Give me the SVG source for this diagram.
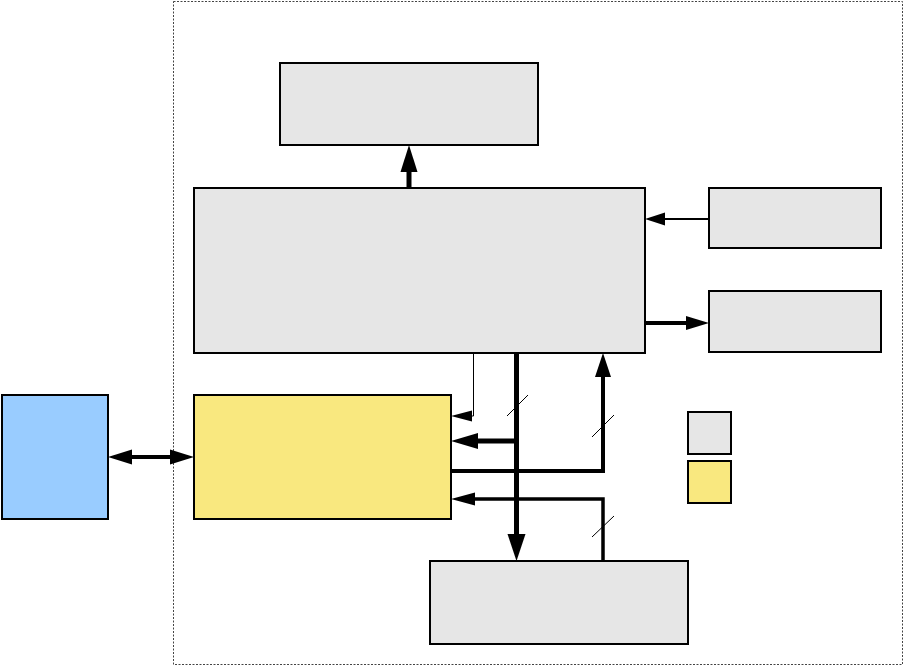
<svg xmlns="http://www.w3.org/2000/svg" width="904" height="666" viewBox="0 0 904 666">
<style>
.box{stroke:#000;stroke-width:2}
.gray{fill:#e6e6e6}
.yellow{fill:#f9e87f}
.blue{fill:#99ccff}
.ln{fill:none;stroke:#000;stroke-linecap:butt;stroke-linejoin:miter}
.ah{fill:#000;stroke:none}
</style>
<rect x="0" y="0" width="904" height="666" fill="#fff"/>
<rect id="boundary" x="173.5" y="1.5" width="729" height="663" fill="none" stroke="#444" stroke-width="1" stroke-dasharray="2,1.5"/>
<g id="top-box"><rect class="box gray" x="280" y="63" width="258" height="82"/></g>
<g id="main-box"><rect class="box gray" x="194" y="188" width="451" height="165"/></g>
<g id="right-top-box"><rect class="box gray" x="709" y="188" width="172" height="60"/></g>
<g id="right-bottom-box"><rect class="box gray" x="709" y="291" width="172" height="61"/></g>
<g id="yellow-box"><rect class="box yellow" x="194" y="395" width="257" height="124"/></g>
<g id="blue-box"><rect class="box blue" x="2" y="395" width="106" height="124"/></g>
<g id="bottom-box"><rect class="box gray" x="430" y="561" width="258" height="83"/></g>
<g id="legend-gray"><rect class="box gray" x="688" y="412" width="43" height="42"/></g>
<g id="legend-yellow"><rect class="box yellow" x="688" y="461" width="43" height="42"/></g>
<g id="connectors">
  <line class="ln" x1="409" y1="188" x2="409" y2="170" stroke-width="5"/>
  <polygon class="ah" points="409,145 400.5,172 417.5,172"/>
  <line class="ln" x1="709" y1="219" x2="662" y2="219" stroke-width="2"/>
  <polygon class="ah" points="645,219 665,212.5 665,225.5"/>
  <line class="ln" x1="645" y1="323" x2="689" y2="323" stroke-width="4"/>
  <polygon class="ah" points="709,323 686,316 686,330"/>
  <line class="ln" x1="128" y1="457" x2="174" y2="457" stroke-width="4"/>
  <polygon class="ah" points="108,457 132,449.5 132,464.5"/>
  <polygon class="ah" points="194,457 170,449.5 170,464.5"/>
  <polyline class="ln" points="473.5,353 473.5,416 468,416" stroke-width="1"/>
  <polygon class="ah" points="451,416 472,410.5 472,421.5"/>
  <line class="ln" x1="516.5" y1="353" x2="516.5" y2="538" stroke-width="5"/>
  <polygon class="ah" points="516.5,561 507.5,534 525.5,534"/>
  <line class="ln" x1="519" y1="441" x2="474" y2="441" stroke-width="5"/>
  <polygon class="ah" points="451,441 478,433 478,449"/>
  <polyline class="ln" points="451,471 603,471 603,373" stroke-width="4"/>
  <polygon class="ah" points="603,353 595,377 611,377"/>
  <polyline class="ln" points="603,561 603,499 472,499" stroke-width="3.5"/>
  <polygon class="ah" points="451,499 475,492.5 475,505.5"/>
  <line class="ln" x1="507" y1="416" x2="528" y2="395" stroke-width="1"/>
  <line class="ln" x1="592" y1="437" x2="614" y2="415" stroke-width="1"/>
  <line class="ln" x1="592" y1="537" x2="614" y2="516" stroke-width="1"/>
</g>
</svg>
